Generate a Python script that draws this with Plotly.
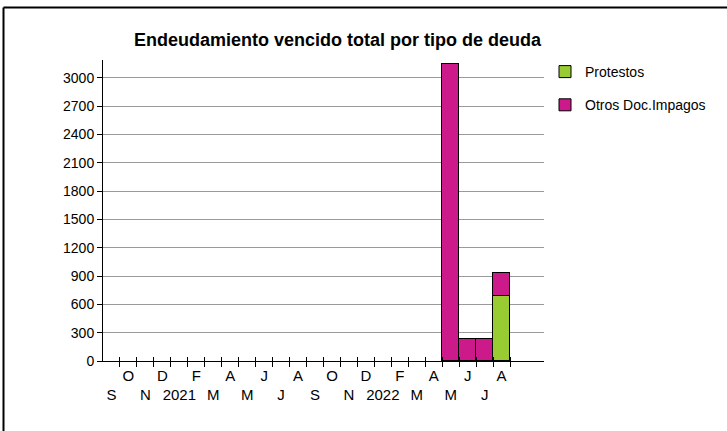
import plotly.graph_objects as go

# ---- data ----
month_labels = ["S", "O", "N", "D", "2021", "F", "M", "A", "M", "J", "J", "A",
                "S", "O", "N", "D", "2022", "F", "M", "A", "M", "J", "J", "A"]
protestos = [None] * 23 + [690]
otros = [None] * 20 + [3150, 230, 230, 240]
y_ticks = list(range(0, 3001, 300))

series_names = ["Protestos", "Otros Doc.Impagos"]
colors = ["#99CC33", "#CC1A8A"]

FONT = "Liberation Sans Narrow, Arial Narrow, Liberation Sans, Arial, sans-serif"

n = len(month_labels)
xs = list(range(n))
top_vals = [i for i in xs if i % 2 == 1]
top_text = [month_labels[i] for i in top_vals]
bot_vals = [i for i in xs if i % 2 == 0]
bot_text = [month_labels[i] for i in bot_vals]
bounds = [i + 0.5 for i in range(n)]

W, H = 727, 431
L, R, T, B = 103, 183, 60, 70
pw, ph = W - L - R, H - T - B

fig = go.Figure()
for name, vals, col in zip(series_names, [protestos, otros], colors):
    fig.add_trace(go.Bar(x=xs, y=vals, name=name, marker=dict(color=col, line=dict(color="black", width=1)),
                         width=1, legendgroup=name))
# invisible traces to host overlay axes
for ax in ["x2", "x3"]:
    fig.add_trace(go.Scatter(x=[0], y=[0], xaxis=ax, mode="markers", marker=dict(opacity=0),
                             showlegend=False, hoverinfo="skip"))

common_x = dict(range=[-0.5, 25.5], showgrid=False, zeroline=False)
fig.update_layout(
    width=W, height=H,
    margin=dict(l=L, r=R, t=T, b=B),
    paper_bgcolor="white", plot_bgcolor="white",
    barmode="stack", bargap=0,
    font=dict(family=FONT, size=13, color="black"),
    xaxis=dict(**common_x, tickmode="array", tickvals=top_vals, ticktext=top_text, tickangle=0,
               ticks="", showline=True, linecolor="black", linewidth=1, ticklabelstandoff=1,
               tickfont=dict(family=FONT, size=15),
               minor=dict(tickmode="array", tickvals=bounds, ticks="outside", ticklen=5,
                          tickcolor="black", tickwidth=1, showgrid=False)),
    xaxis2=dict(**common_x, overlaying="x", anchor="y", side="bottom",
                tickmode="array", tickvals=bounds, ticktext=[""] * n, ticks="inside",
                ticklen=4, tickcolor="black", showline=False),
    xaxis3=dict(**common_x, overlaying="x", anchor="y", side="bottom",
                tickmode="array", tickvals=bot_vals, ticktext=bot_text, tickangle=0, ticks="",
                ticklabelstandoff=23, showline=False, tickfont=dict(family=FONT, size=15)),
    yaxis=dict(range=[0, 3190], tickmode="array", tickvals=y_ticks, ticks="outside", ticklen=5,
               tickcolor="black", showgrid=True, gridcolor="#9a9a9a", gridwidth=1, zeroline=False,
               showline=True, linecolor="black", linewidth=1, tickfont=dict(family=FONT, size=14)),
    legend=dict(x=(545 - L) / pw, y=1 + (T - 56) / ph, xanchor="left", yanchor="top",
                font=dict(family=FONT, size=14), tracegroupgap=12, itemwidth=30,
                bgcolor="rgba(0,0,0,0)"),
    showlegend=True,
)

fig.add_annotation(text="<b>Endeudamiento vencido total por tipo de deuda</b>", xref="paper", yref="paper",
                   x=(338 - L) / pw, y=(H - B - 40) / ph, xanchor="center", yanchor="middle",
                   showarrow=False, font=dict(family="Liberation Sans, Arial, sans-serif", size=18))

# frame lines (left and top) of the chart picture
x_left = (3.5 - L) / pw
y_top = (H - B - 7.5) / ph
fig.add_shape(type="line", xref="paper", yref="paper", x0=x_left, x1=x_left, y0=-B / ph, y1=y_top,
              line=dict(color="black", width=2))
fig.add_shape(type="line", xref="paper", yref="paper", x0=x_left, x1=(W - L) / pw, y0=y_top, y1=y_top,
              line=dict(color="black", width=2))

fig.write_html("out.html", config={"displayModeBar": False},
               post_script="document.body.style.margin='0px';")
